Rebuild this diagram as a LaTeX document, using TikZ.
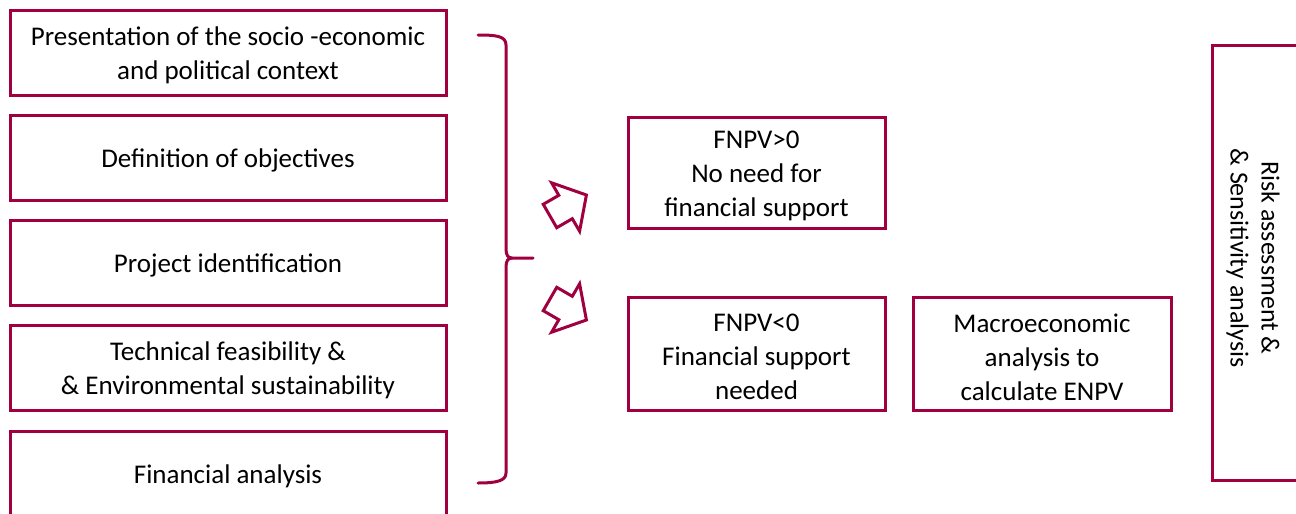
\documentclass[tikz,border=0pt]{standalone}
\usepackage{fontspec}
\setmainfont{Carlito}
\definecolor{maroon}{RGB}{160,0,64}
\begin{document}
\begin{tikzpicture}[x=1pt,y=-1pt,
  box/.style={draw=maroon,line width=3pt,fill=white,inner sep=0pt},
  txt/.style={inner sep=0pt,align=center,font=\fontsize{27}{34}\selectfont,text=black},
  outl/.style={draw=maroon,line width=3pt,line join=miter}]
\clip (0,0) rectangle (1296,514);
\fill[white] (0,0) rectangle (1296,514);
% left column
\node[box,minimum width=436pt,minimum height=85pt] (b1) at (228,52.5) {};
\node[txt] (b1t) at ([yshift=-3pt]b1.center) {Presentation of the socio -economic\\and political context};
\node[box,minimum width=436pt,minimum height=85pt] (b2) at (228,157.5) {};
\node[txt] (b2t) at ([yshift=-3pt]b2.center) {Definition of objectives};
\node[box,minimum width=436pt,minimum height=85pt] (b3) at (228,262.5) {};
\node[txt] (b3t) at ([yshift=-3pt]b3.center) {Project identification};
\node[box,minimum width=436pt,minimum height=85pt] (b4) at (228,367.5) {};
\node[txt] (b4t) at ([yshift=-3pt]b4.center) {Technical feasibility \&\\\& Environmental sustainability};
\node[box,minimum width=436pt,minimum height=100pt] (b5) at (228,481) {};
\node[txt] (b5t) at (228,476) {Financial analysis};
% brace
\draw[outl,line cap=round,line join=round] (478,35) .. controls (496,35) and (506,36) .. (506,45)
  -- (506,249) .. controls (506,255) and (508,258) .. (512,258) -- (533,258);
\draw[outl,line cap=round,line join=round] (512,258) .. controls (508,258) and (506,261) .. (506,267)
  -- (506,473) .. controls (506,481) and (496,483) .. (478,483);
% block arrows
\draw[outl] (543.25,204.3) -- (558.8,195.3) -- (551.6,182.8) -- (586.4,195) -- (579.6,231.2) -- (572.3,218.7) -- (556.75,227.7) -- cycle;
\draw[outl] (543.25,310.7) -- (558.8,319.7) -- (551.6,332.2) -- (586.4,320) -- (579.6,283.8) -- (572.3,296.3) -- (556.75,287.3) -- cycle;
% middle boxes
\node[box,minimum width=257pt,minimum height=111pt] (pos) at (756.5,172.5) {};
\node[txt] (post) at ([yshift=-3.5pt]pos.center) {FNPV>0\\No need for\\financial support};
\node[box,minimum width=257pt,minimum height=113pt] (neg) at (756.5,353.5) {};
\node[txt] (negt) at ([yshift=-3.5pt]neg.center) {FNPV<0\\Financial support\\needed};
\node[box,minimum width=258pt,minimum height=113pt] (mac) at (1042,353.5) {};
\node[txt] (mact) at ([yshift=-3.5pt]mac.center) {Macroeconomic\\analysis to\\calculate ENPV};
% right box
\node[box,minimum width=110pt,minimum height=435pt] (risk) at (1267,262.5) {};
\node[txt,rotate=-90,font=\fontsize{26}{31}\selectfont] (riskt) at (1253,258) {Risk assessment \&\\\& Sensitivity analysis};
\end{tikzpicture}
\end{document}
